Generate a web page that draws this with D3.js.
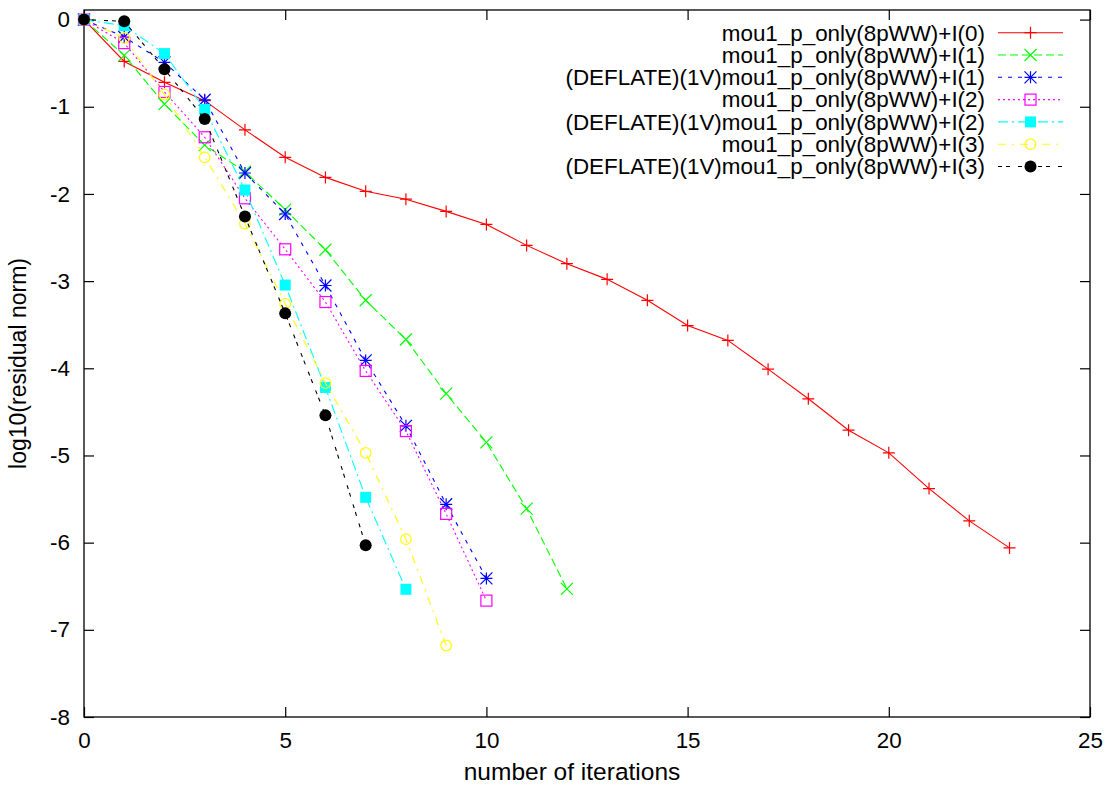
<!DOCTYPE html>
<html>
<head>
<meta charset="utf-8">
<script src="https://cdn.jsdelivr.net/npm/d3@7"></script>
<style>
  html, body { margin: 0; padding: 0; background: #fff; }
  svg text { font-family: "Liberation Sans", Arial, Helvetica, sans-serif; }
</style>
</head>
<body>
<svg id="chart" width="1111" height="787"></svg>
<script>
// ---- Data ----
const seriesNames = [
  "mou1_p_only(8pWW)+I(0)",
  "mou1_p_only(8pWW)+I(1)",
  "(DEFLATE)(1V)mou1_p_only(8pWW)+I(1)",
  "mou1_p_only(8pWW)+I(2)",
  "(DEFLATE)(1V)mou1_p_only(8pWW)+I(2)",
  "mou1_p_only(8pWW)+I(3)",
  "(DEFLATE)(1V)mou1_p_only(8pWW)+I(3)"
];
const s0 = [0, -0.48, -0.72, -0.93, -1.265, -1.58, -1.81, -1.97, -2.06, -2.20, -2.35, -2.59, -2.80, -2.98, -3.22, -3.51, -3.68, -4.01, -4.35, -4.71, -4.97, -5.38, -5.75, -6.06];
const s1 = [0, -0.41, -0.97, -1.44, -1.745, -2.18, -2.64, -3.22, -3.67, -4.29, -4.85, -5.61, -6.53];
const s2 = [0, -0.20, -0.49, -0.92, -1.76, -2.23, -3.05, -3.91, -4.66, -5.56, -6.41];
const s3 = [0, -0.27, -0.83, -1.35, -2.05, -2.635, -3.24, -4.03, -4.72, -5.67, -6.665];
const s4 = [0, -0.07, -0.39, -1.03, -1.955, -3.045, -4.22, -5.48, -6.535];
const s5 = [0, -0.21, -0.86, -1.58, -2.34, -3.26, -4.17, -4.97, -5.96, -7.18];
const s6 = [0, -0.02, -0.57, -1.14, -2.26, -3.37, -4.54, -6.03];
const seriesValues = [s0, s1, s2, s3, s4, s5, s6];
const xTicks = [0, 5, 10, 15, 20, 25];
const yTicks = [0, -1, -2, -3, -4, -5, -6, -7, -8];
const xLabel = "number of iterations";
const yLabel = "log10(residual norm)";

// ---- Styles ----
const colors = ["#ff0000", "#00ff00", "#0000ff", "#ff00ff", "#00ffff", "#ffff00", "#000000"];
const dashes = [null, "8,4", "4,6", "2,3", "10,4,2,4", "8,6,2,6", "4,4,4,8"];
const markers = ["plus", "cross", "star", "box", "fbox", "circle", "fcircle"];

const svg = d3.select("#chart");
const m = { left: 84, right: 1090, top: 10, bottom: 717 };
const x = d3.scaleLinear().domain([0, 25]).range([m.left, m.right]);
const y = d3.scaleLinear().domain([-8, 0.11]).range([m.bottom, m.top]);
const FS = 22.4;

// axes with inward ticks
const gx = svg.append("g").attr("transform", `translate(0,${m.bottom})`)
  .call(d3.axisBottom(x).tickValues(xTicks).tickFormat(d3.format("d")).tickSizeInner(-10).tickSizeOuter(0).tickPadding(15));
const gxt = svg.append("g").attr("transform", `translate(0,${m.top})`)
  .call(d3.axisTop(x).tickValues(xTicks).tickFormat("").tickSizeInner(-10).tickSizeOuter(0));
const gy = svg.append("g").attr("transform", `translate(${m.left},0)`)
  .call(d3.axisLeft(y).tickValues(yTicks).tickFormat(d => d3.format("d")(d).replace("\u2212", "-")).tickSizeInner(-10).tickSizeOuter(0).tickPadding(14));
const gyr = svg.append("g").attr("transform", `translate(${m.right},0)`)
  .call(d3.axisRight(y).tickValues(yTicks).tickFormat("").tickSizeInner(-10).tickSizeOuter(0));
[gx, gxt, gy, gyr].forEach(g => {
  g.select(".domain").remove();
  g.selectAll(".tick line").attr("stroke", "#000").attr("stroke-width", 1.2);
  g.selectAll("text").attr("font-size", FS).attr("fill", "#000")
    .attr("font-family", "'Liberation Sans', Arial, sans-serif");
});

// border
svg.append("rect").attr("x", m.left).attr("y", m.top)
  .attr("width", m.right - m.left).attr("height", m.bottom - m.top)
  .attr("fill", "none").attr("stroke", "#000").attr("stroke-width", 1.3);

// axis titles
svg.append("text").attr("x", 572).attr("y", 780)
  .attr("text-anchor", "middle").attr("font-size", 24.5).text(xLabel);
svg.append("text").attr("transform", `translate(26,${(m.top + m.bottom) / 2}) rotate(-90)`)
  .attr("text-anchor", "middle").attr("font-size", 23).text(yLabel);

function drawMarker(g, type, cx, cy, color) {
  const h = 6;
  if (type === "plus" || type === "star") {
    g.append("path").attr("d", `M${cx - h},${cy}H${cx + h}M${cx},${cy - h}V${cy + h}`)
      .attr("stroke", color).attr("stroke-width", 1.2).attr("fill", "none");
  }
  if (type === "cross" || type === "star") {
    g.append("path").attr("d", `M${cx - h},${cy - h}L${cx + h},${cy + h}M${cx - h},${cy + h}L${cx + h},${cy - h}`)
      .attr("stroke", color).attr("stroke-width", 1.2).attr("fill", "none");
  }
  if (type === "box") {
    g.append("rect").attr("x", cx - 5.5).attr("y", cy - 5.5).attr("width", 11).attr("height", 11)
      .attr("stroke", color).attr("stroke-width", 1.2).attr("fill", "none");
  }
  if (type === "fbox") {
    g.append("rect").attr("x", cx - 5.5).attr("y", cy - 5.5).attr("width", 11).attr("height", 11)
      .attr("fill", color);
  }
  if (type === "circle") {
    g.append("circle").attr("cx", cx).attr("cy", cy).attr("r", 5.3)
      .attr("stroke", color).attr("stroke-width", 1.2).attr("fill", "none");
  }
  if (type === "fcircle") {
    g.append("circle").attr("cx", cx).attr("cy", cy).attr("r", 6).attr("fill", color);
  }
}

const line = d3.line().x((d, i) => x(i)).y(d => y(d));
const plot = svg.append("g");
seriesValues.forEach((vals, si) => {
  const g = plot.append("g");
  g.append("path").datum(vals).attr("d", line)
    .attr("fill", "none").attr("stroke", colors[si]).attr("stroke-width", 1.1)
    .attr("stroke-dasharray", dashes[si]);
  vals.forEach((v, i) => drawMarker(g, markers[si], x(i), y(v), colors[si]));
});

// legend
const leg = svg.append("g");
const legTop = 32.7, legStep = 22.3;
seriesNames.forEach((name, si) => {
  const cy = legTop + si * legStep;
  leg.append("text").attr("x", 985).attr("y", cy).attr("dy", "0.35em")
    .attr("text-anchor", "end").attr("font-size", FS).text(name);
  leg.append("line").attr("x1", 998).attr("x2", 1063).attr("y1", cy).attr("y2", cy)
    .attr("stroke", colors[si]).attr("stroke-width", 1.1).attr("stroke-dasharray", dashes[si]);
  drawMarker(leg, markers[si], 1030.5, cy, colors[si]);
});
</script>
</body>
</html>
